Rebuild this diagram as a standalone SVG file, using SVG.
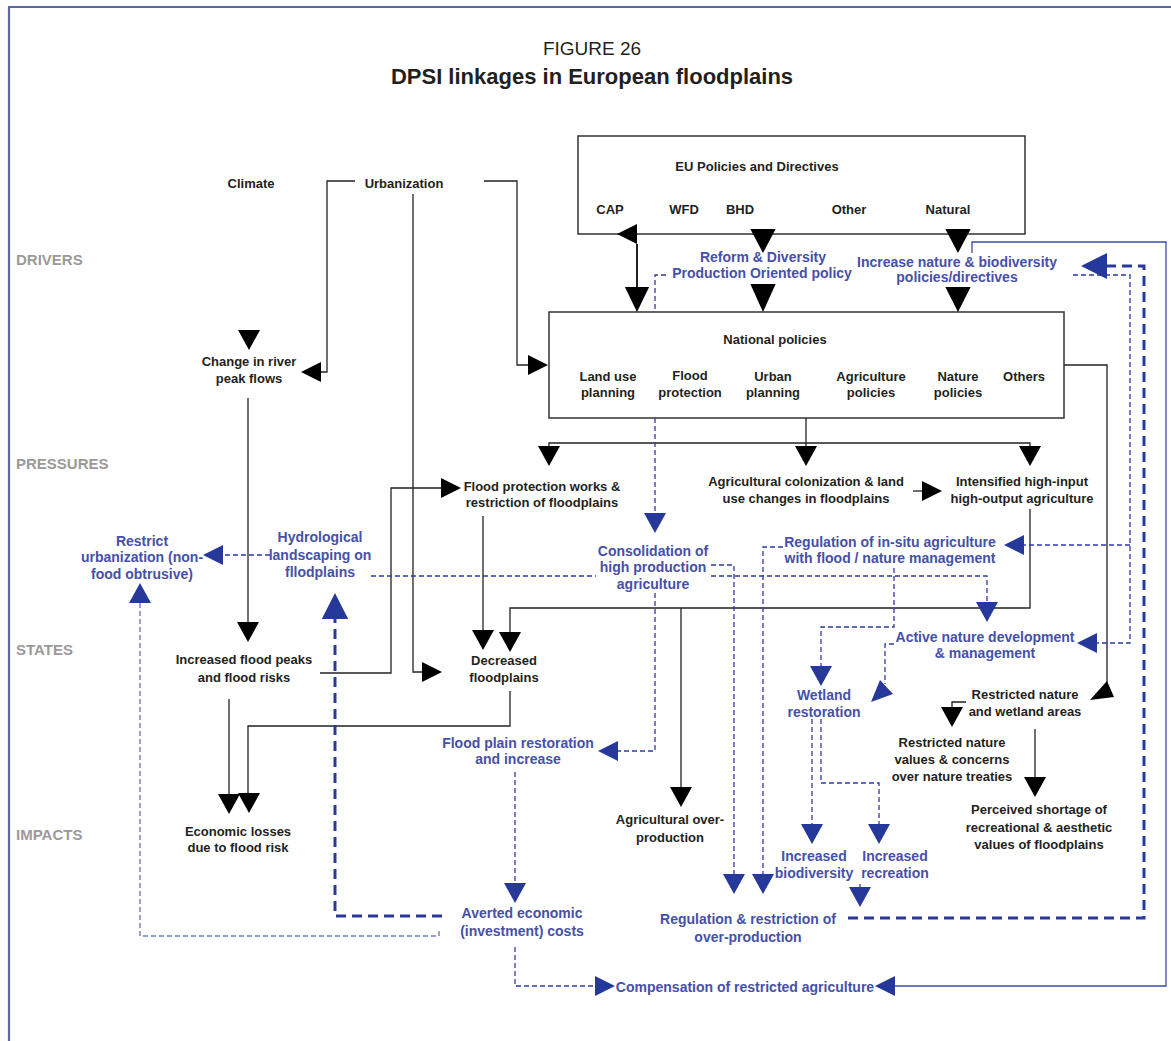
<svg xmlns="http://www.w3.org/2000/svg" xmlns:xlink="http://www.w3.org/1999/xlink" width="1171" height="1041" viewBox="0 0 1171 1041">
<style>
text{font-family:"Liberation Sans",Arial,sans-serif;font-weight:bold;text-anchor:middle}
.t{font-size:13px;fill:#231f20}
.b{font-size:14px;fill:#4650a8}
.side{font-size:15px;fill:#9a9a9a;text-anchor:start}
.box{fill:#fff;stroke:#333;stroke-width:1.5}
.k{fill:none;stroke:#222;stroke-width:1.3}
.kf{fill:#000}
.bf{fill:#26389a}
.d{fill:none;stroke:#2d3da2;stroke-width:1.3;stroke-dasharray:5 3}
.dl{fill:none;stroke:#6f7bc6;stroke-width:1.4;stroke-dasharray:5 3}
.D{fill:none;stroke:#2a3a9c;stroke-width:3;stroke-dasharray:10 6}
.s{fill:none;stroke:#3a4aa8;stroke-width:1.3}
</style>
<defs>
<path id="ad" d="M-11,-20 L11,-20 L0,0 Z"/>
<path id="au" d="M-11,20 L11,20 L0,0 Z"/>
<path id="al" d="M0,0 L20,-10 L20,10 Z"/>
<path id="ar" d="M0,0 L-20,-10 L-20,10 Z"/>
</defs>
<rect width="1171" height="1041" fill="#fff"/>
<g id="frame">
<path d="M8,7 H1171 M9,7 V1041" fill="none" stroke="#5b68a3" stroke-width="2.2"/>
</g>
<g id="title">
<text x="592" y="55" style="font-weight:normal;font-size:19px;fill:#231f20">FIGURE 26</text>
<text x="592" y="84" style="font-size:22px;fill:#231f20">DPSI linkages in European floodplains</text>
</g>
<g id="sidelabels">
<text class="side" x="16" y="265">DRIVERS</text>
<text class="side" x="16" y="469">PRESSURES</text>
<text class="side" x="16" y="655">STATES</text>
<text class="side" x="16" y="840">IMPACTS</text>
</g>
<g id="n-climate"><text class="t" x="251" y="188">Climate</text></g>
<g id="n-urbanization"><text class="t" x="404" y="188">Urbanization</text></g>
<g id="n-eu">
<rect class="box" x="578" y="136" width="447" height="98"/>
<text class="t" x="757" y="171">EU Policies and Directives</text>
<text class="t" x="610" y="214">CAP</text>
<text class="t" x="684" y="214">WFD</text>
<text class="t" x="740" y="214">BHD</text>
<text class="t" x="849" y="214">Other</text>
<text class="t" x="948" y="214">Natural</text>
</g>
<g id="n-national">
<rect class="box" x="549" y="312" width="515" height="106"/>
<text class="t" x="775" y="344">National policies</text>
<text class="t" x="608" y="381">Land use</text><text class="t" x="608" y="397">planning</text>
<text class="t" x="690" y="380">Flood</text><text class="t" x="690" y="397">protection</text>
<text class="t" x="773" y="381">Urban</text><text class="t" x="773" y="397">planning</text>
<text class="t" x="871" y="381">Agriculture</text><text class="t" x="871" y="397">policies</text>
<text class="t" x="958" y="381">Nature</text><text class="t" x="958" y="397">policies</text>
<text class="t" x="1024" y="381">Others</text>
</g>
<g id="n-change"><text class="t" x="249" y="366">Change in river</text><text class="t" x="249" y="383">peak flows</text></g>
<g id="n-floodprot"><text class="t" x="542" y="491">Flood protection works &amp;</text><text class="t" x="542" y="507">restriction of floodplains</text></g>
<g id="n-agcol"><text class="t" x="806" y="486">Agricultural colonization &amp; land</text><text class="t" x="806" y="503">use changes in floodplains</text></g>
<g id="n-intens"><text class="t" x="1022" y="486">Intensified high-input</text><text class="t" x="1022" y="503">high-output agriculture</text></g>
<g id="n-incflood"><text class="t" x="244" y="664">Increased flood peaks</text><text class="t" x="244" y="682">and flood risks</text></g>
<g id="n-decfp"><text class="t" x="504" y="665">Decreased</text><text class="t" x="504" y="682">floodplains</text></g>
<g id="n-restrwet"><text class="t" x="1025" y="699">Restricted nature</text><text class="t" x="1025" y="716">and wetland areas</text></g>
<g id="n-restrval"><text class="t" x="952" y="747">Restricted nature</text><text class="t" x="952" y="764">values &amp; concerns</text><text class="t" x="952" y="781">over nature treaties</text></g>
<g id="n-perceived"><text class="t" x="1039" y="814">Perceived shortage of</text><text class="t" x="1039" y="832">recreational &amp; aesthetic</text><text class="t" x="1039" y="849">values of floodplains</text></g>
<g id="n-econ"><text class="t" x="238" y="836">Economic losses</text><text class="t" x="238" y="852">due to flood risk</text></g>
<g id="n-agover"><text class="t" x="670" y="824">Agricultural over-</text><text class="t" x="670" y="842">production</text></g>
<g id="n-reform"><text class="b" x="763" y="262">Reform &amp; Diversity</text><text class="b" x="762" y="278">Production Oriented policy</text></g>
<g id="n-incnature"><text class="b" x="957" y="267">Increase nature &amp; biodiversity</text><text class="b" x="957" y="282">policies/directives</text></g>
<g id="n-restrurb"><text class="b" x="142" y="546">Restrict</text><text class="b" x="142" y="562">urbanization (non-</text><text class="b" x="142" y="579">food obtrusive)</text></g>
<g id="n-hydro"><text class="b" x="320" y="542">Hydrological</text><text class="b" x="320" y="560">landscaping on</text><text class="b" x="320" y="577">fllodplains</text></g>
<g id="n-consol"><text class="b" x="653" y="556">Consolidation of</text><text class="b" x="653" y="572">high production</text><text class="b" x="653" y="589">agriculture</text></g>
<g id="n-reginsitu"><text class="b" x="890" y="547">Regulation of in-situ agriculture</text><text class="b" x="890" y="563">with flood / nature management</text></g>
<g id="n-active"><text class="b" x="985" y="642">Active nature development</text><text class="b" x="985" y="658">&amp; management</text></g>
<g id="n-wetland"><text class="b" x="824" y="700">Wetland</text><text class="b" x="824" y="717">restoration</text></g>
<g id="n-fprest"><text class="b" x="518" y="748">Flood plain restoration</text><text class="b" x="518" y="764">and increase</text></g>
<g id="n-incbio"><text class="b" x="814" y="861">Increased</text><text class="b" x="814" y="878">biodiversity</text></g>
<g id="n-increc"><text class="b" x="895" y="861">Increased</text><text class="b" x="895" y="878">recreation</text></g>
<g id="n-averted"><text class="b" x="522" y="918">Averted economic</text><text class="b" x="522" y="936">(investment) costs</text></g>
<g id="n-regrestr"><text class="b" x="748" y="924">Regulation &amp; restriction of</text><text class="b" x="748" y="942">over-production</text></g>
<g id="n-compens"><text class="b" x="745" y="992">Compensation of restricted agriculture</text></g>
<g id="connectors">
<!-- black -->
<polyline class="k" points="355,181 327,181 327,372 321,372"/><use href="#al" class="kf" x="301" y="372"/>
<polyline class="k" points="484,181 517,181 517,365 528,365"/><use href="#ar" class="kf" x="548" y="365"/>
<polyline class="k" points="413,194 413,672 422,672"/><use href="#ar" class="kf" x="442" y="672"/>
<use href="#ad" class="kf" x="249" y="350"/>
<polyline class="k" points="248,398 248,622"/><use href="#ad" class="kf" x="248" y="642"/>
<polyline class="k" points="320,673 391,673 391,488 441,488"/><use href="#ar" class="kf" x="461" y="488"/>
<polyline class="k" points="483,516 483,630"/><use href="#ad" class="kf" x="483" y="650"/>
<polyline class="k" points="1030,509 1030,608 510,608 510,632"/><use href="#ad" class="kf" x="510" y="652"/>
<polyline class="k" points="681,608 681,788"/><use href="#ad" class="kf" x="681" y="807"/>
<polyline class="k" points="510,691 510,726 248,726 248,794"/><use href="#ad" class="kf" x="249" y="813"/>
<polyline class="k" points="229,699 229,795"/><use href="#ad" class="kf" x="229" y="814"/>
<use href="#al" class="kf" x="617" y="234"/>
<polyline class="k" points="637,244 637,287" style="stroke-width:2"/><use href="#ad" class="kf" x="637" y="312" transform="translate(637,312) scale(1.1,1.25) translate(-637,-312)"/>
<use href="#ad" class="kf" x="763" y="253" transform="translate(763,253) scale(1.15,1.2) translate(-763,-253)"/>
<use href="#ad" class="kf" x="763" y="312" transform="translate(763,312) scale(1.15,1.4) translate(-763,-312)"/>
<use href="#ad" class="kf" x="958" y="253" transform="translate(958,253) scale(1.15,1.2) translate(-958,-253)"/>
<use href="#ad" class="kf" x="958" y="312" transform="translate(958,312) scale(1.15,1.25) translate(-958,-312)"/>
<polyline class="k" points="806,418 806,446"/>
<polyline class="k" points="549,446 549,443 1030,443 1030,446"/>
<use href="#ad" class="kf" x="549" y="466"/><use href="#ad" class="kf" x="806" y="466"/><use href="#ad" class="kf" x="1030" y="466"/>
<polyline class="k" points="913,491 922,491"/><use href="#ar" class="kf" x="942" y="491"/>
<polyline class="k" points="1064,365 1107,365 1107,688"/><polygon class="kf" points="1090,700 1114,697 1107,681"/>
<polyline class="k" points="966,702 952,702 952,708"/><use href="#ad" class="kf" x="952" y="727"/>
<polyline class="k" points="1035,729 1035,778"/><use href="#ad" class="kf" x="1035" y="797"/>
<!-- blue thin dashed -->
<polyline class="d" points="666,275 655,275 655,312"/>
<polyline class="d" points="655,418 655,514"/><use href="#ad" class="bf" x="655" y="533"/>
<polyline class="d" points="655,593 655,751 618,751"/><use href="#al" class="bf" x="598" y="751"/>
<polyline class="d" points="371,576 596,576"/>
<polyline class="d" points="711,576 987,576 987,603"/><use href="#ad" class="bf" x="987" y="622"/>
<polyline class="d" points="711,565 734,565 734,875"/><use href="#ad" class="bf" x="734" y="894"/>
<polyline class="d" points="783,547 763,547 763,875"/><use href="#ad" class="bf" x="763" y="894"/>
<polyline class="d" points="894,568 894,627 821,627 821,667"/><use href="#ad" class="bf" x="821" y="686"/>
<polyline class="d" points="894,644 885,644 885,684"/><polygon class="bf" points="871,702 893,694 880,680"/>
<polyline class="d" points="1073,275 1130,275 1130,643 1097,643"/><use href="#al" class="bf" x="1077" y="643"/>
<polyline class="d" points="1130,545 1024,545"/><use href="#al" class="bf" x="1004" y="545"/>
<polyline class="d" points="812,719 812,826"/><use href="#ad" class="bf" x="812" y="844"/>
<polyline class="d" points="821,719 821,783 879,783 879,826"/><use href="#ad" class="bf" x="879" y="844"/>
<polyline class="d" points="860,884 860,889"/><use href="#ad" class="bf" x="860" y="907"/>
<polyline class="d" points="270,555 223,555"/><use href="#al" class="bf" x="203" y="555"/>
<polyline class="d" points="515,772 515,884"/><use href="#ad" class="bf" x="515" y="903"/>
<polyline class="d" points="515,947 515,986 595,986"/><use href="#ar" class="bf" x="615" y="986"/>
<polyline class="dl" points="439,931 439,936 140,936 140,603"/><use href="#au" class="bf" x="140" y="583"/>
<!-- blue thick dashed -->
<polyline class="D" points="848,918 1144,918 1144,266 1102,266"/><use href="#al" class="bf" x="1081" y="266" transform="translate(1081,266) scale(1.3) translate(-1081,-266)"/>
<polyline class="D" points="442,916 335,916 335,614"/><use href="#au" class="bf" x="335" y="593" transform="translate(335,593) scale(1.2,1.3) translate(-335,-593)"/>
<!-- blue solid -->
<polyline class="s" points="972,253 972,242 1166,242 1166,986 895,986"/><use href="#al" class="bf" x="875" y="986"/>
</g>
</svg>
